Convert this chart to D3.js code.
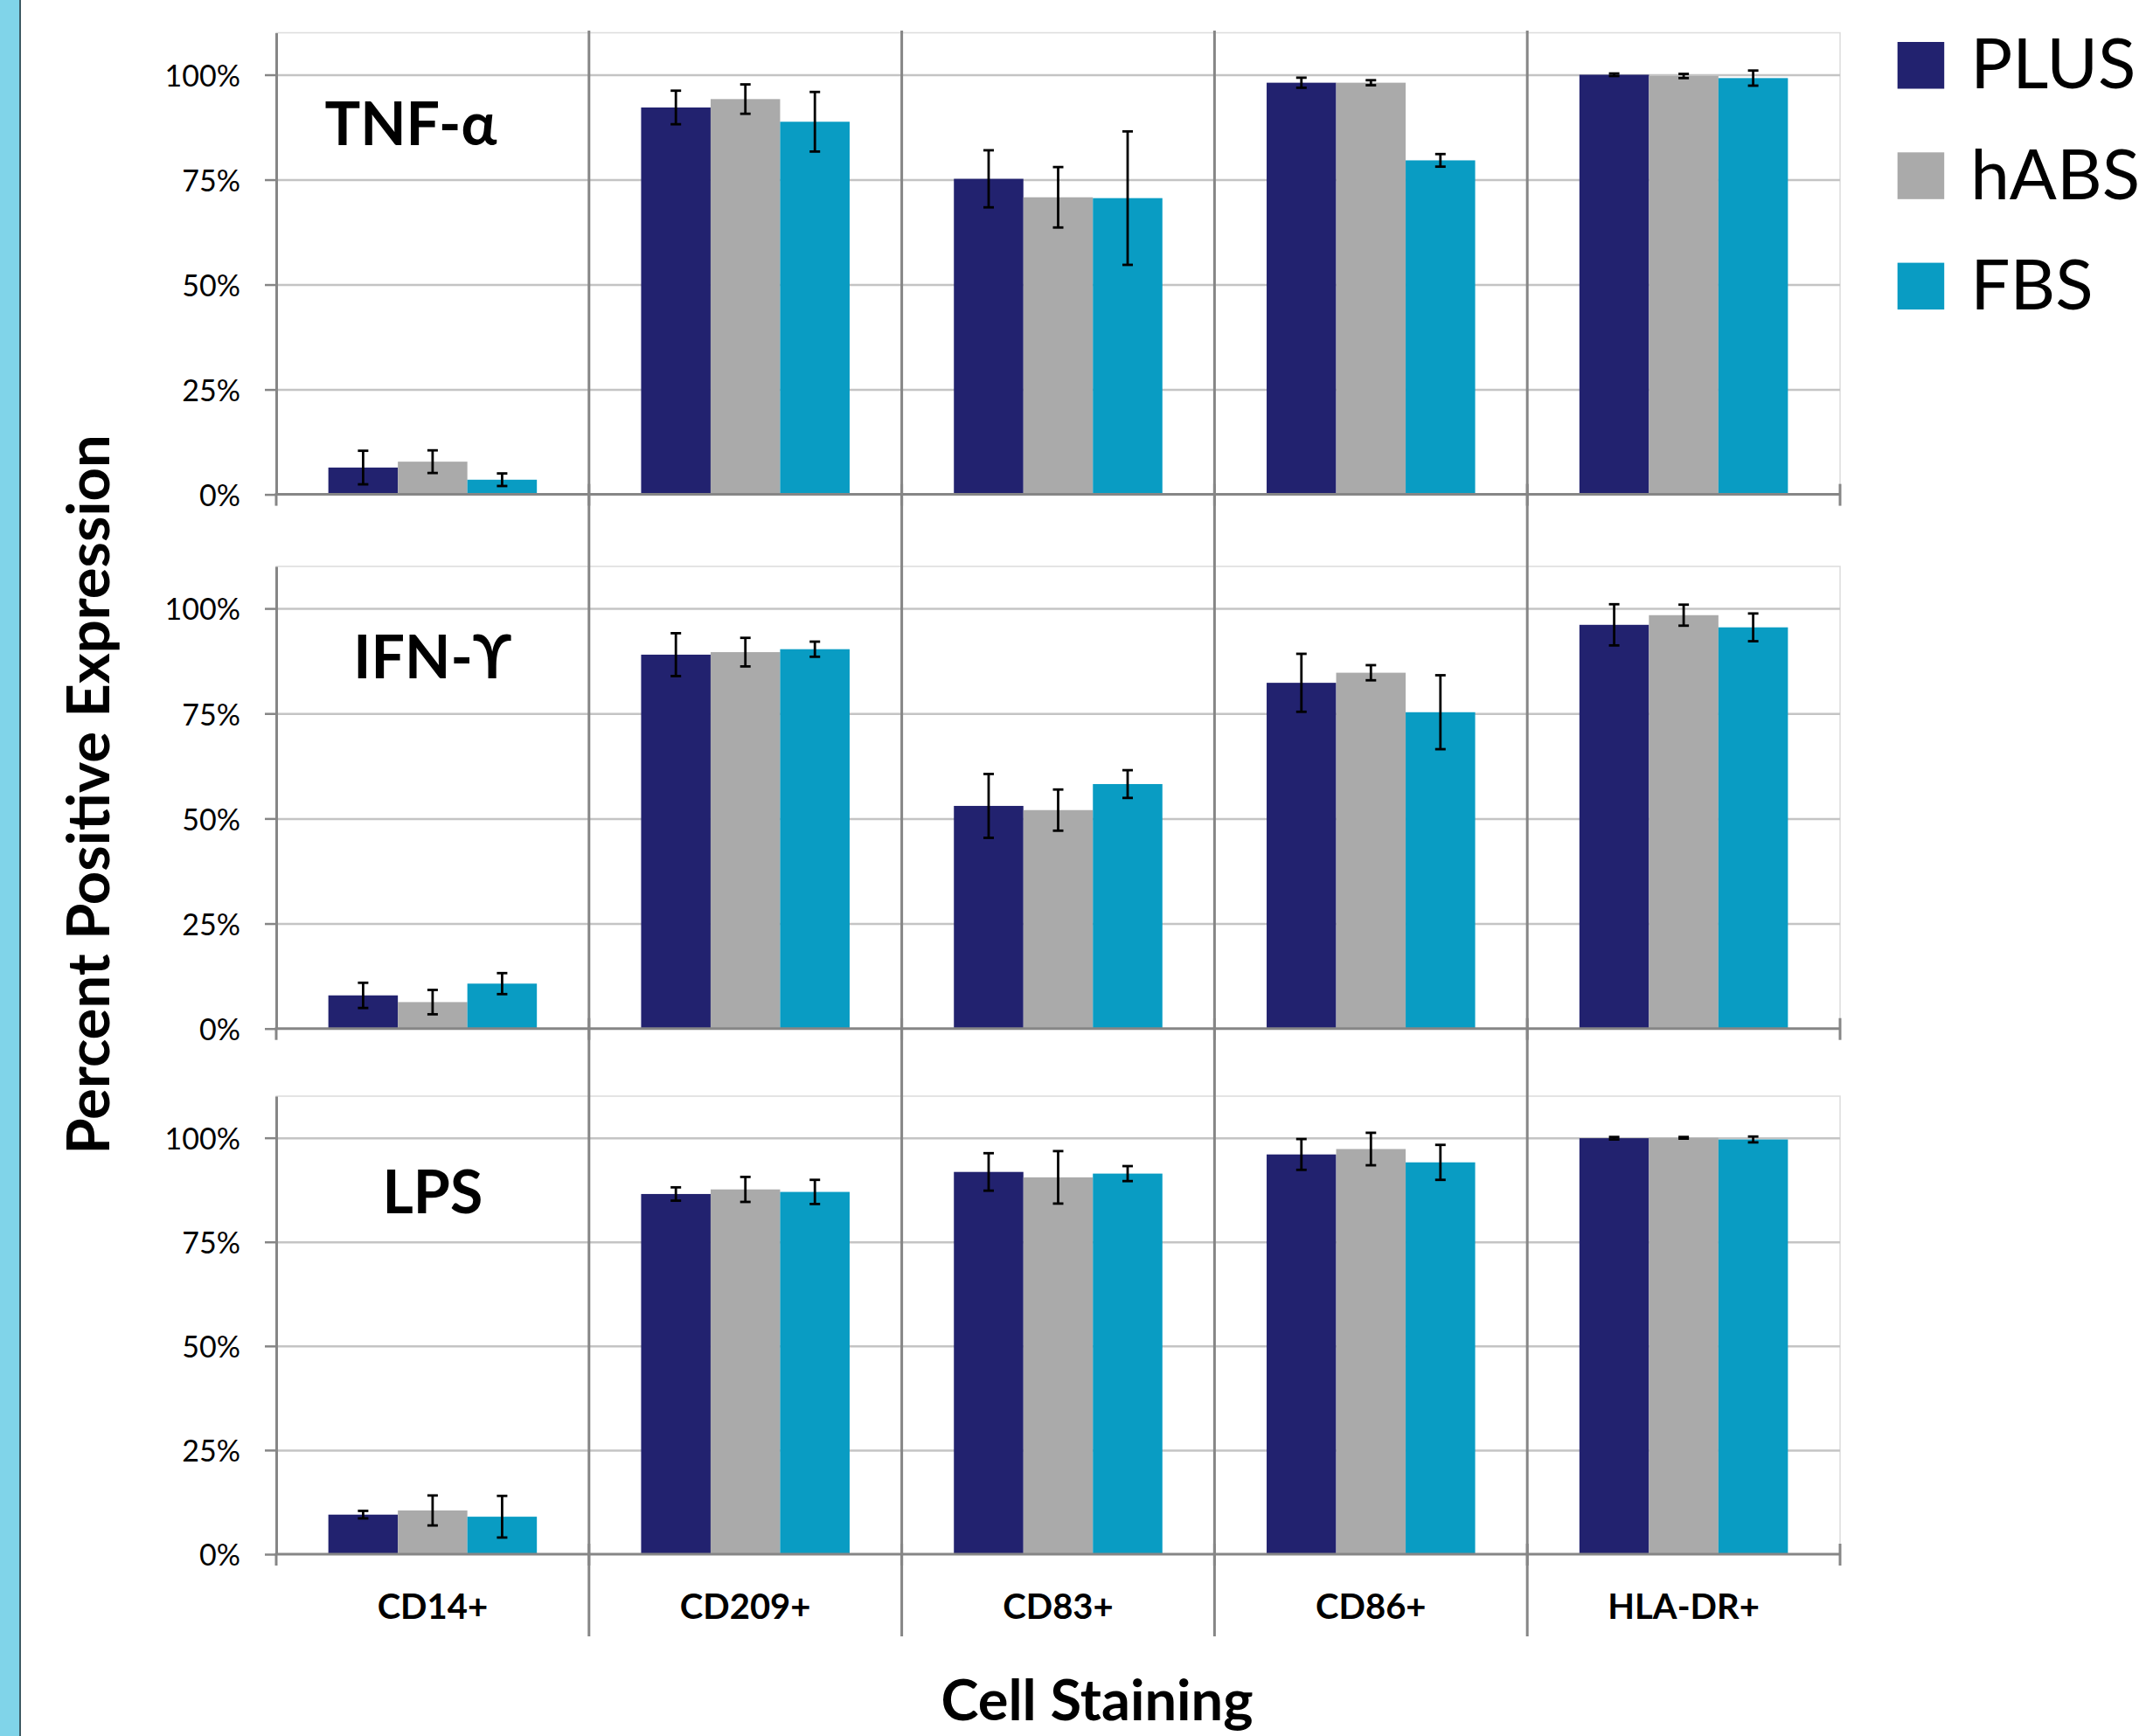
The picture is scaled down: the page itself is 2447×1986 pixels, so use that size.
<!DOCTYPE html>
<html>
<head>
<meta charset="utf-8">
<script src="https://cdn.jsdelivr.net/npm/d3@7"></script>
<style>
  html, body { margin: 0; padding: 0; background: #fff; }
  svg { display: block; }
</style>
</head>
<body>
<svg id="chart"></svg>
<script>
// ---- data (percent positive) ----
const categories = ['CD14+', 'CD209+', 'CD83+', 'CD86+', 'HLA-DR+'];
const seriesNames = ['PLUS', 'hABS', 'FBS'];
const panelTitles = ['TNF-α', 'IFN-ϒ', 'LPS'];
const yTickValues = [0, 0.25, 0.5, 0.75, 1];

// rows: PLUS, hABS, FBS
const tnfMeans = [
    [6.4, 92.2, 75.2, 98.1, 100.0],
    [7.8, 94.2, 70.8, 98.1, 99.7],
    [3.5, 88.8, 70.6, 79.6, 99.2]
];
const tnfErrors = [
    [4.0, 4.0, 6.8, 1.2, 0.3],
    [2.7, 3.5, 7.2, 0.6, 0.5],
    [1.5, 7.1, 15.9, 1.5, 1.8]
];
const ifnMeans = [
    [7.9, 89.0, 53.0, 82.3, 96.1],
    [6.3, 89.6, 52.0, 84.7, 98.4],
    [10.7, 90.3, 58.2, 75.3, 95.5]
];
const ifnErrors = [
    [3.0, 5.1, 7.6, 6.9, 4.9],
    [2.9, 3.4, 4.9, 1.8, 2.5],
    [2.5, 1.8, 3.3, 8.8, 3.3]
];
const lpsMeans = [
    [9.5, 86.5, 91.8, 96.0, 99.9],
    [10.5, 87.6, 90.5, 97.3, 100.0],
    [9.0, 87.0, 91.4, 94.1, 99.6]
];
const lpsErrors = [
    [0.9, 1.6, 4.5, 3.7, 0.3],
    [3.6, 3.0, 6.3, 3.9, 0.2],
    [5.0, 2.9, 1.8, 4.2, 0.7]
];

const panels = [
    { title: panelTitles[0], means: tnfMeans, errors: tnfErrors },
    { title: panelTitles[1], means: ifnMeans, errors: ifnErrors },
    { title: panelTitles[2], means: lpsMeans, errors: lpsErrors }
];

// ---- layout ----
const width = 2447, height = 1986;
const plotLeft = 316, plotRight = 2105;
const rowTop = [37.5, 648, 1254];
const rowBottom = [565.6, 1176.7, 1778];
const titleDx = [-25, 0, 0];
const titleDy = [128, 128, 134];
const colors = ['#22226f', '#aaaaaa', '#099cc3'];
const axisGray = '#868686';
const font = "Lato, 'Open Sans', 'DejaVu Sans', sans-serif";

const svg = d3.select('#chart')
    .attr('width', width)
    .attr('height', height)
    .attr('font-family', font);

// left decorative strip
svg.append('rect')
    .attr('x', 0).attr('y', 0)
    .attr('width', 22).attr('height', height)
    .attr('fill', '#80d4e9');
svg.append('rect')
    .attr('x', 22).attr('y', 0)
    .attr('width', 2).attr('height', height)
    .attr('fill', '#3d5a63');

const x = d3.scaleBand()
    .domain(categories)
    .range([plotLeft, plotRight]);

const xs = d3.scaleBand()
    .domain(seriesNames)
    .range([0, x.bandwidth()])
    .paddingOuter(0.75);

panels.forEach((p, r) => {
    const y = d3.scaleLinear()
        .domain([0, 1.1])
        .range([rowBottom[r], rowTop[r]]);

    const g = svg.append('g');

    // plot area border
    g.append('rect')
        .attr('x', plotLeft)
        .attr('y', rowTop[r])
        .attr('width', plotRight - plotLeft)
        .attr('height', rowBottom[r] - rowTop[r])
        .attr('fill', 'none')
        .attr('stroke', '#dcdcdc')
        .attr('stroke-width', 1.5);

    // gridlines
    g.append('g')
        .attr('transform', `translate(${plotLeft},0)`)
        .call(d3.axisLeft(y)
            .tickValues(yTickValues.slice(1))
            .tickSize(-(plotRight - plotLeft))
            .tickFormat(''))
        .call(a => a.select('.domain').remove())
        .call(a => a.selectAll('line')
            .attr('stroke', '#c4c4c4')
            .attr('stroke-width', 2.5));

    // bars
    seriesNames.forEach((s, si) => {
        g.append('g')
            .selectAll('rect')
            .data(categories)
            .join('rect')
            .attr('x', c => x(c) + xs(s))
            .attr('width', xs.bandwidth())
            .attr('y', (c, ci) => y(p.means[si][ci] / 100))
            .attr('height', (c, ci) => y(0) - y(p.means[si][ci] / 100))
            .attr('fill', colors[si]);
    });

    // error bars
    seriesNames.forEach((s, si) => {
        const eb = g.append('g')
            .attr('stroke', '#000')
            .attr('stroke-width', 2.8)
            .selectAll('g')
            .data(categories)
            .join('g')
            .attr('transform', c => `translate(${x(c) + xs(s) + xs.bandwidth() / 2},0)`);

        const hi = (c, ci) => y((p.means[si][ci] + p.errors[si][ci]) / 100);
        const lo = (c, ci) => y((p.means[si][ci] - p.errors[si][ci]) / 100);

        eb.append('line')
            .attr('x1', 0).attr('x2', 0)
            .attr('y1', hi).attr('y2', lo);
        eb.append('line')
            .attr('x1', -6).attr('x2', 6)
            .attr('y1', hi).attr('y2', hi);
        eb.append('line')
            .attr('x1', -6).attr('x2', 6)
            .attr('y1', lo).attr('y2', lo);
    });

    // y axis
    g.append('g')
        .attr('transform', `translate(${plotLeft},0)`)
        .call(d3.axisLeft(y)
            .tickValues(yTickValues)
            .tickFormat(d3.format('.0%'))
            .tickSize(13)
            .tickSizeOuter(0)
            .tickPadding(28))
        .attr('font-family', font)
        .attr('font-size', 34)
        .call(a => a.select('.domain')
            .attr('stroke', axisGray)
            .attr('stroke-width', 3))
        .call(a => a.selectAll('.tick line')
            .attr('stroke', axisGray)
            .attr('stroke-width', 2.5))
        .call(a => a.selectAll('.tick text')
            .attr('fill', '#000')
            .attr('dy', '0.38em'));

    // category axis
    g.append('line')
        .attr('x1', plotLeft - 1.5).attr('x2', plotRight)
        .attr('y1', y(0)).attr('y2', y(0))
        .attr('stroke', axisGray)
        .attr('stroke-width', 3);

    const bounds = categories.map(c => x(c)).concat([x.range()[1]]);
    g.append('g')
        .selectAll('line')
        .data(bounds)
        .join('line')
        .attr('x1', d => d).attr('x2', d => d)
        .attr('y1', (d, i) => i === 0 ? y(0) : y(0) - 12)
        .attr('y2', y(0) + 13)
        .attr('stroke', axisGray)
        .attr('stroke-width', 3);

    // panel title
    g.append('text')
        .attr('x', x(categories[0]) + x.bandwidth() / 2 + titleDx[r])
        .attr('y', rowTop[r] + titleDy[r])
        .attr('text-anchor', 'middle')
        .attr('font-size', 68)
        .attr('font-weight', 700)
        .attr('fill', '#000')
        .text(p.title);
});

// vertical separators between categories
svg.append('g')
    .selectAll('line')
    .data(categories.slice(1))
    .join('line')
    .attr('x1', c => x(c)).attr('x2', c => x(c))
    .attr('y1', 35).attr('y2', 1872)
    .attr('stroke', axisGray)
    .attr('stroke-width', 3);

// category labels
svg.append('g')
    .selectAll('text')
    .data(categories)
    .join('text')
    .attr('x', c => x(c) + x.bandwidth() / 2)
    .attr('y', 1851.7)
    .attr('text-anchor', 'middle')
    .attr('font-size', 40)
    .attr('font-weight', 700)
    .attr('fill', '#000')
    .text(c => c);

// axis titles
svg.append('text')
    .attr('transform', 'translate(125,909) rotate(-90)')
    .attr('text-anchor', 'middle')
    .attr('font-size', 67)
    .attr('font-weight', 700)
    .attr('fill', '#000')
    .text('Percent Positive Expression');

svg.append('text')
    .attr('x', 1255)
    .attr('y', 1968)
    .attr('text-anchor', 'middle')
    .attr('font-size', 65)
    .attr('font-weight', 700)
    .attr('fill', '#000')
    .text('Cell Staining');

// legend
const legend = svg.append('g')
    .selectAll('g')
    .data(seriesNames)
    .join('g')
    .attr('transform', (d, i) => `translate(2170.7,${48 + i * 126.3})`);

legend.append('rect')
    .attr('width', 53.5)
    .attr('height', 53.5)
    .attr('fill', (d, i) => colors[i]);

legend.append('text')
    .attr('x', 83.5)
    .attr('y', 53.4)
    .attr('font-size', 80)
    .attr('fill', '#000')
    .text(d => d);
</script>
</body>
</html>
